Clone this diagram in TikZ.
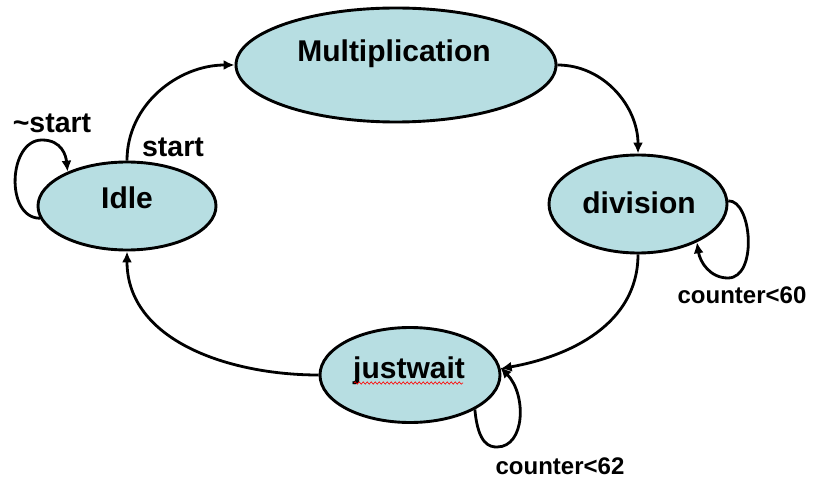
\documentclass[tikz,border=0pt]{standalone}
\usepackage{fontspec}
\setmainfont{Liberation Sans}
\usetikzlibrary{shapes.geometric,arrows.meta,decorations.pathmorphing}
\definecolor{statefill}{HTML}{B7DEE2}
\tikzset{
  state/.style={ellipse, draw=black, line width=2.9pt, fill=statefill, inner sep=0pt},
  statetext/.style={anchor=base, font=\bfseries\fontsize{30}{35}\selectfont},
  edgetext/.style={anchor=base, font=\bfseries\fontsize{28.5}{33}\selectfont},
  smalltext/.style={anchor=base, font=\bfseries\fontsize{24}{28}\selectfont},
  trans/.style={line width=2.8pt, -{Latex[length=11pt,width=10pt]}},
}
\begin{document}
\begin{tikzpicture}[x=1pt,y=-1pt]
  \useasboundingbox (0,0) rectangle (816,481);

  % states
  \node[state, minimum width=320pt, minimum height=114pt] (Mult) at (396,65) {};
  \node[state, minimum width=178pt, minimum height=88pt] (Idle) at (127,206) {};
  \node[state, minimum width=178pt, minimum height=98pt] (Div) at (638,204) {};
  \node[state, minimum width=180pt, minimum height=95pt] (Wait) at (410,375) {};

  % state names
  \node[statetext] (tMult) at (394,62) {Multiplication};
  \node[statetext] (tIdle) at (127,208) {Idle};
  \node[statetext] (tDiv) at (639,213) {division};
  \node[statetext] (tWait) at (409,378) {justwait};
  \draw[red, line width=0.6pt, decorate,
        decoration={snake, amplitude=1.2pt, segment length=4pt}]
    (354,383) -- (463,383);

  % transitions around the cycle
  \draw[trans] (Idle.north) to[out=90,in=180] (Mult.west);
  \draw[trans] (Mult.east) to[out=0,in=90] (Div.north);
  \draw[trans] (Div.south) to[out=-90,in=10] (Wait.4);
  \draw[trans] (Wait.west) to[out=180,in=-90] (Idle.south);

  % self loops
  \draw[trans] (Idle.188) .. controls (5,218) and (8,140) .. (42,140)
                          .. controls (62,140) and (66,156) .. (Idle.150);
  \draw[trans] (Div.2) .. controls (752,200) and (758,278) .. (728,278)
                       .. controls (710,278) and (700,262) .. (Div.-33);
  \draw[trans] (Wait.-28) .. controls (478,445) and (490,447) .. (497,447)
                          .. controls (525,447) and (527,395) .. (Wait.5);

  % transition labels
  \node[edgetext] (lStart) at (173,157) {start};
  \node[edgetext] (lNotStart) at (52,133) {\textasciitilde start};
  \node[smalltext] (lC60) at (742,303) {counter<60};
  \node[smalltext] (lC62) at (560,474) {counter<62};
\end{tikzpicture}
\end{document}
